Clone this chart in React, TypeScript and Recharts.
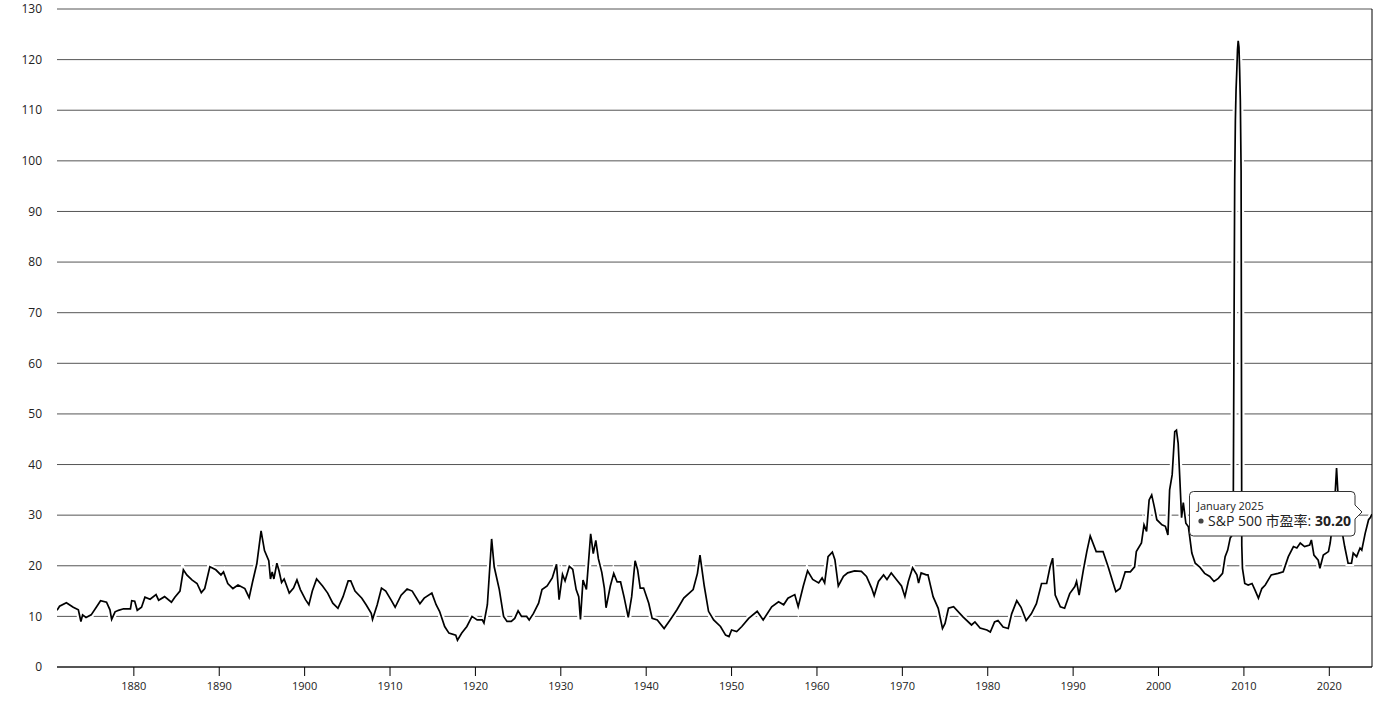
import React from 'react';
import { LineChart, Line, XAxis, YAxis, CartesianGrid, Tooltip } from 'recharts';

const years: number[] = [
  1871.0, 1871.3, 1872.1, 1872.9, 1873.5, 1873.8, 1874.0, 1874.4, 1875.0, 1875.6,
  1876.1, 1876.8, 1877.2, 1877.4, 1877.8, 1878.2, 1878.8, 1879.6, 1879.75, 1880.1,
  1880.4, 1880.9, 1881.3, 1881.9, 1882.6, 1882.9, 1883.6, 1884.4, 1884.8, 1885.4,
  1885.8, 1886.2, 1886.8, 1887.4, 1887.9, 1888.3, 1888.9, 1889.6, 1890.2, 1890.5,
  1891.0, 1891.6, 1892.2, 1893.0, 1893.5, 1893.9, 1894.4, 1894.9, 1895.3, 1895.8,
  1896.0, 1896.2, 1896.4, 1896.75, 1897.0, 1897.3, 1897.6, 1898.2, 1898.7, 1899.1,
  1899.5, 1900.1, 1900.5, 1900.9, 1901.4, 1902.1, 1902.7, 1903.3, 1903.9, 1904.5,
  1905.1, 1905.4, 1905.9, 1906.7, 1907.2, 1907.8, 1907.95, 1908.5, 1909.0, 1909.5,
  1910.1, 1910.6, 1911.3, 1912.0, 1912.6, 1913.5, 1914.0, 1914.9, 1915.4, 1915.8,
  1916.4, 1916.9, 1917.7, 1917.9, 1918.4, 1919.0, 1919.6, 1920.2, 1920.8, 1921.0,
  1921.4, 1921.9, 1922.2, 1922.8, 1923.3, 1923.7, 1924.2, 1924.6, 1925.0, 1925.4,
  1926.0, 1926.3, 1926.8, 1927.4, 1927.8, 1928.4, 1929.0, 1929.5, 1929.8, 1930.2,
  1930.5, 1931.0, 1931.4, 1931.8, 1932.1, 1932.3, 1932.6, 1933.0, 1933.5, 1933.8,
  1934.1, 1934.4, 1934.8, 1935.1, 1935.3, 1935.8, 1936.2, 1936.6, 1937.0, 1937.4,
  1937.9, 1938.3, 1938.7, 1939.0, 1939.3, 1939.7, 1940.3, 1940.7, 1941.3, 1942.1,
  1942.8, 1943.6, 1944.4, 1945.5, 1946.0, 1946.3, 1946.8, 1947.3, 1947.9, 1948.7,
  1949.3, 1949.7, 1950.0, 1950.6, 1951.2, 1952.0, 1953.0, 1953.7, 1954.7, 1955.5,
  1956.1, 1956.6, 1957.4, 1957.8, 1958.4, 1958.9, 1959.5, 1960.2, 1960.6, 1960.9,
  1961.3, 1961.8, 1962.1, 1962.5, 1963.1, 1963.6, 1964.4, 1965.2, 1965.8, 1966.4,
  1966.7, 1967.2, 1967.8, 1968.2, 1968.7, 1969.3, 1969.9, 1970.3, 1970.7, 1971.2,
  1971.7, 1971.9, 1972.2, 1972.8, 1973.0, 1973.6, 1974.2, 1974.7, 1975.0, 1975.4,
  1976.0, 1977.1, 1978.1, 1978.5, 1979.1, 1979.9, 1980.3, 1980.8, 1981.2, 1981.8,
  1982.4, 1982.8, 1983.4, 1983.9, 1984.5, 1985.1, 1985.7, 1986.3, 1986.9, 1987.3,
  1987.6, 1987.9, 1988.5, 1989.0, 1989.6, 1990.2, 1990.4, 1990.7, 1991.2, 1991.6,
  1992.0, 1992.7, 1993.5, 1994.1, 1994.7, 1995.0, 1995.5, 1996.1, 1996.7, 1997.2,
  1997.4, 1998.0, 1998.3, 1998.6, 1998.9, 1999.2, 1999.5, 1999.8, 2000.4, 2000.8,
  2001.1, 2001.3, 2001.6, 2001.9, 2002.1, 2002.3, 2002.5, 2002.7, 2002.9, 2003.2,
  2003.5, 2003.9, 2004.3, 2004.8, 2005.4, 2006.0, 2006.5, 2007.0, 2007.5, 2007.8,
  2008.1, 2008.4, 2008.6, 2008.75, 2008.83, 2008.92, 2009.0, 2009.08, 2009.17, 2009.25,
  2009.33, 2009.42, 2009.5, 2009.58, 2009.67, 2009.75, 2009.83, 2010.1, 2010.5, 2010.95,
  2011.3, 2011.7, 2012.1, 2012.5, 2013.2, 2014.0, 2014.6, 2015.2, 2015.8, 2016.2,
  2016.6, 2017.1, 2017.7, 2017.9, 2018.2, 2018.7, 2018.9, 2019.3, 2019.9, 2020.1,
  2020.3, 2020.6, 2020.85, 2021.0, 2021.4, 2021.8, 2022.2, 2022.6, 2022.8, 2023.2,
  2023.6, 2023.8, 2024.2, 2024.6, 2024.83, 2025.0,
];

const peValues: number[] = [
  11.2, 12.0, 12.7, 11.8, 11.3, 9.0, 10.3, 9.8, 10.3, 11.8,
  13.1, 12.8, 11.3, 9.4, 10.9, 11.2, 11.5, 11.5, 13.1, 13.0,
  11.2, 11.8, 13.8, 13.4, 14.3, 13.2, 13.9, 12.8, 13.8, 15.0,
  19.2, 18.2, 17.2, 16.5, 14.7, 15.5, 19.8, 19.2, 18.2, 18.8,
  16.5, 15.5, 16.2, 15.5, 13.7, 16.8, 20.4, 26.9, 23.0, 21.0,
  17.4, 18.8, 17.4, 20.5, 19.0, 16.7, 17.4, 14.6, 15.6, 17.2,
  15.3, 13.3, 12.3, 15.0, 17.4, 16.0, 14.6, 12.6, 11.6, 13.9,
  17.0, 17.0, 15.0, 13.6, 12.3, 10.6, 9.4, 12.3, 15.6, 15.0,
  13.3, 11.8, 14.2, 15.4, 15.0, 12.5, 13.6, 14.6, 12.3, 11.0,
  8.0, 6.7, 6.3, 5.3, 6.7, 8.0, 10.0, 9.3, 9.3, 8.7,
  12.3, 25.3, 19.8, 15.3, 10.0, 9.0, 9.0, 9.6, 11.1, 10.0,
  10.0, 9.3, 10.6, 12.6, 15.3, 16.0, 17.6, 20.3, 13.3, 18.3,
  17.0, 19.9, 19.3, 15.3, 13.9, 9.4, 17.2, 15.3, 26.3, 22.4,
  25.0, 21.4, 18.7, 15.6, 11.7, 16.0, 18.5, 16.8, 16.8, 13.9,
  9.8, 13.9, 21.0, 19.2, 15.6, 15.6, 12.6, 9.6, 9.3, 7.6,
  9.3, 11.3, 13.6, 15.3, 18.5, 22.1, 16.0, 11.0, 9.3, 8.0,
  6.3, 6.0, 7.3, 7.0, 8.0, 9.6, 11.0, 9.3, 11.9, 12.9,
  12.3, 13.6, 14.3, 11.9, 16.0, 19.0, 17.3, 16.6, 17.6, 16.6,
  21.8, 22.7, 21.2, 16.0, 17.9, 18.6, 19.0, 18.9, 17.9, 15.6,
  14.1, 16.9, 18.2, 17.3, 18.6, 17.3, 16.0, 13.9, 16.9, 19.6,
  18.2, 16.6, 18.6, 18.2, 18.2, 13.9, 11.6, 7.6, 8.6, 11.6,
  11.9, 9.9, 8.3, 8.9, 7.7, 7.3, 6.9, 8.9, 9.2, 7.9,
  7.6, 10.5, 13.1, 11.8, 9.2, 10.5, 12.5, 16.5, 16.5, 19.8,
  21.5, 14.2, 11.9, 11.6, 14.5, 15.9, 16.9, 14.2, 19.2, 22.8,
  25.9, 22.8, 22.8, 19.8, 16.5, 14.9, 15.5, 18.8, 18.8, 19.8,
  22.8, 24.5, 28.1, 26.8, 33.0, 34.0, 31.7, 29.1, 28.1, 27.8,
  26.1, 35.0, 38.0, 46.5, 46.8, 44.2, 37.0, 29.5, 32.5, 28.4,
  27.7, 22.5, 20.5, 19.8, 18.5, 17.9, 16.9, 17.5, 18.5, 21.8,
  23.1, 25.5, 26.0, 30.0, 62.0, 96.0, 108.0, 114.0, 118.0, 122.0,
  123.7, 122.5, 118.0, 112.0, 98.0, 24.0, 19.5, 16.5, 16.2, 16.5,
  15.2, 13.6, 15.5, 16.2, 18.2, 18.5, 18.8, 21.8, 23.8, 23.5,
  24.5, 23.8, 24.1, 25.1, 22.1, 21.1, 19.5, 22.1, 22.8, 24.5,
  27.1, 31.7, 39.3, 34.6, 27.7, 23.8, 20.5, 20.5, 22.5, 21.8,
  23.5, 23.1, 26.4, 29.1, 29.6, 30.2,
];

const xTicks: number[] = [1880, 1890, 1900, 1910, 1920, 1930, 1940, 1950, 1960, 1970, 1980, 1990, 2000, 2010, 2020];
const yTicks: number[] = [0, 10, 20, 30, 40, 50, 60, 70, 80, 90, 100, 110, 120, 130];
const seriesName = 'S&P 500 市盈率';
const monthNames: string[] = ['January', 'February', 'March', 'April', 'May', 'June', 'July', 'August', 'September', 'October', 'November', 'December'];

const data = years.map((t, i) => ({ t, pe: peValues[i] }));

const FONT = '"Open Sans", "Noto Sans CJK SC", sans-serif';

function TipBox(props: any) {
  const { active, payload } = props;
  if (!active || !payload || !payload.length) return null;
  const p = payload[0].payload;
  const yr = Math.floor(p.t + 1e-6);
  const m = Math.round((p.t - yr) * 12) % 12;
  const label = `${monthNames[m]} ${yr}`;
  return (
    <svg width={178} height={50} style={{ overflow: 'visible', display: 'block' }}>
      <path
        d="M4.5 0.5 H162 Q166 0.5 166 4.5 V14 L173 21 L166 28 V41 Q166 45 162 45 H4.5 Q0.5 45 0.5 41 V4.5 Q0.5 0.5 4.5 0.5 Z"
        fill="#fff"
        stroke="#333"
        strokeWidth={1}
      />
      <text x={8} y={18.5} fontSize={11} fill="#222" fontFamily={FONT}>{label}</text>
      <circle cx={12} cy={30} r={2.6} fill="#444" />
      <text x={19} y={34.5} fontSize={14} fill="#222" fontFamily={FONT}>
        {seriesName}: <tspan fontWeight="bold">{p.pe.toFixed(2)}</tspan>
      </text>
    </svg>
  );
}

export default function App() {
  return (
    <div style={{ width: 1376, height: 706, background: '#fff' }}>
      <style>{`body{margin:0;background:#fff}`}</style>
      <LineChart
        width={1376}
        height={706}
        data={data}
        margin={{ top: 9, right: 4, left: 0, bottom: 0 }}
      >
        <CartesianGrid vertical={false} stroke="#555" strokeWidth={1} />
        <XAxis
          dataKey="t"
          type="number"
          domain={[1871, 2025]}
          ticks={xTicks}
          allowDataOverflow
          height={39}
          axisLine={{ stroke: '#000', strokeWidth: 1 }}
          tickLine={{ stroke: '#000' }}
          tickSize={9}
          tickMargin={6}
          tick={{ fontSize: 11, fill: '#222', fontFamily: FONT }}
        />
        <YAxis
          domain={[0, 130]}
          ticks={yTicks}
          width={57}
          axisLine={false}
          tickLine={false}
          tickSize={0}
          tickMargin={15}
          tick={{ fontSize: 12, fill: '#222', fontFamily: FONT }}
        />
        <Tooltip
          active
          defaultIndex={data.length - 1}
          position={{ x: 1189, y: 491 }}
          content={<TipBox />}
          cursor={{ stroke: '#000', strokeWidth: 1 }}
          isAnimationActive={false}
          wrapperStyle={{ outline: 'none' }}
        />
        <Line
          dataKey="pe"
          stroke="#fff"
          strokeWidth={6}
          dot={false}
          activeDot={false}
          isAnimationActive={false}
          legendType="none"
        />
        <Line
          dataKey="pe"
          name={seriesName}
          stroke="#000"
          strokeWidth={1.7}
          dot={false}
          activeDot={false}
          isAnimationActive={false}
        />
      </LineChart>
    </div>
  );
}
